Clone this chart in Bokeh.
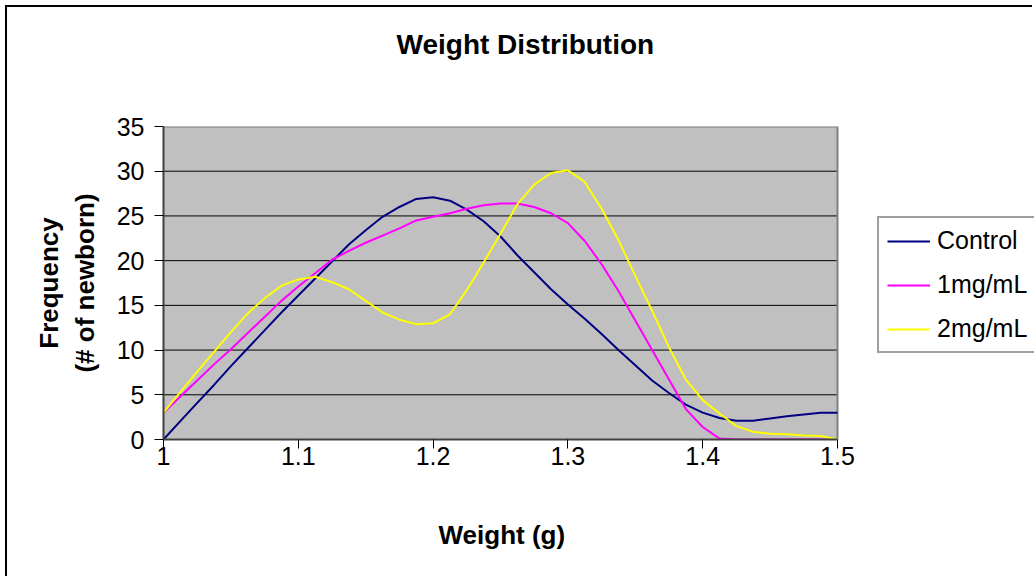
from bokeh.plotting import figure
from bokeh.models import (FixedTicker, NumeralTickFormatter, Legend, LegendItem,
                          ColumnDataSource, Range1d, Title)
from bokeh.embed import file_html
from bokeh.resources import INLINE

# ---- data ----
weight = [1.0, 1.0125, 1.025, 1.0375, 1.05, 1.0625, 1.075, 1.0875, 1.1, 1.1125,
          1.125, 1.1375, 1.15, 1.1625, 1.175, 1.1875, 1.2, 1.2125, 1.225, 1.2375,
          1.25, 1.2625, 1.275, 1.2875, 1.3, 1.3125, 1.325, 1.3375, 1.35, 1.3625,
          1.375, 1.3875, 1.4, 1.4125, 1.425, 1.4375, 1.45, 1.4625, 1.475, 1.4875, 1.5]

control = [0.0, 2.05, 4.1, 6.1, 8.2, 10.2, 12.2, 14.2, 16.1, 18.0,
           19.9, 21.8, 23.4, 24.9, 26.0, 26.9, 27.1, 26.7, 25.7, 24.4,
           22.7, 20.6, 18.7, 16.8, 15.1, 13.5, 11.8, 10.0, 8.3, 6.6,
           5.2, 3.9, 3.0, 2.4, 2.1, 2.1, 2.35, 2.6, 2.8, 3.0, 3.0]

mg1 = [3.0, 4.8, 6.6, 8.4, 10.1, 11.9, 13.7, 15.5, 17.1, 18.6,
       20.1, 21.1, 22.0, 22.8, 23.6, 24.5, 24.9, 25.3, 25.8, 26.2,
       26.4, 26.4, 26.0, 25.3, 24.2, 22.2, 19.6, 16.6, 13.3, 10.0,
       6.7, 3.4, 1.4, 0.1, 0.0, 0.0, 0.0, 0.0, 0.0, 0.0, 0.0]

mg2 = [3.0, 5.3, 7.6, 9.8, 12.0, 14.1, 15.8, 17.2, 17.9, 18.2,
       17.6, 16.8, 15.5, 14.2, 13.4, 12.9, 13.0, 14.0, 16.7, 19.8,
       23.0, 26.3, 28.5, 29.8, 30.1, 28.8, 25.8, 22.3, 18.3, 14.4,
       10.3, 6.7, 4.4, 2.9, 1.5, 0.85, 0.65, 0.6, 0.45, 0.4, 0.0]

series_names = ["Control", "1mg/mL", "2mg/mL"]
series_colors = ["#000080", "#FF00FF", "#FFFF00"]
x_ticks = [1.0, 1.1, 1.2, 1.3, 1.4, 1.5]
y_ticks = [0, 5, 10, 15, 20, 25, 30, 35]
grid_ticks = [5, 10, 15, 20, 25, 30]
title_text = "Weight Distribution"
x_label = "Weight (g)"
y_label = "Frequency\n(# of newborn)"

FONT = "Liberation Sans"

# ---- layout (pixels) ----
W, H = 1027, 571
LEFT, TOP, BOTTOM = 156, 119, 139
AREA_W = 674                      # width of the grey plotting area
FRAME_W = W - LEFT                # frame runs to the right edge (room for legend)
x0, x1 = x_ticks[0], x_ticks[-1]
x_end = x0 + (x1 - x0) * FRAME_W / AREA_W

p = figure(width=W, height=H, output_backend="svg", toolbar_location=None,
           x_range=Range1d(x0, x_end), y_range=Range1d(y_ticks[0], y_ticks[-1]),
           min_border_left=LEFT, min_border_right=0,
           min_border_top=TOP, min_border_bottom=BOTTOM)

# chart-area frame line on the top and left (as in the reference)
p.styles = {"margin-top": "7px", "margin-left": "7px",
            "box-shadow": "-2px -2px 0px 0px #000000"}

p.background_fill_color = "white"
p.border_fill_color = "white"
p.outline_line_color = None
p.title = None

# above (first = nearest the frame): white spacer, then the chart title
p.add_layout(Title(text=".", text_color="white", text_font_size="10px", standoff=57), "above")
p.add_layout(Title(text=title_text, align="left", offset=233,
                   text_font=FONT, text_font_size="28px", text_font_style="bold",
                   text_color="black", standoff=0), "above")

# axes
for ax in (p.xaxis[0], p.yaxis[0]):
    ax.axis_line_color = "#404040"
    ax.axis_line_width = 2
    ax.major_tick_line_color = "black"
    ax.major_tick_line_width = 1
    ax.major_tick_out = 9
    ax.major_tick_in = 0
    ax.minor_tick_line_color = None
    ax.major_label_text_font = FONT
    ax.major_label_text_font_size = "25px"
    ax.major_label_text_color = "black"
    ax.axis_label_text_font = FONT
    ax.axis_label_text_font_size = "26px"
    ax.axis_label_text_font_style = "bold"
    ax.axis_label_text_color = "black"

p.xaxis.ticker = FixedTicker(ticks=x_ticks)
p.xaxis.bounds = (x0, x1)
p.xaxis.formatter = NumeralTickFormatter(format="0.[0]")
p.xaxis.major_label_standoff = -2
p.xaxis.axis_label = None

p.yaxis.ticker = FixedTicker(ticks=y_ticks)
p.yaxis.major_label_standoff = 10
p.yaxis.axis_label = y_label
p.yaxis.axis_label_standoff = 14

# below (after the axis): white spacer, then the x-axis title centred on the grey area
p.add_layout(Title(text=".", text_color="white", text_font_size="10px", standoff=40), "below")
p.add_layout(Title(text=x_label, align="left", offset=275,
                   text_font=FONT, text_font_size="26px", text_font_style="bold",
                   text_color="black", standoff=0), "below")

p.xgrid.visible = False
p.ygrid.visible = False

# grey plotting area, grid lines and its border
p.quad(left=x0, right=x1, bottom=y_ticks[0], top=y_ticks[-1],
       fill_color="#C0C0C0", line_color=None, level="image")
p.segment(x0=[x0] * len(grid_ticks), x1=[x1] * len(grid_ticks),
          y0=grid_ticks, y1=grid_ticks, line_color="black", line_width=1)
p.line(x=[x0, x1, x1], y=[y_ticks[-1], y_ticks[-1], y_ticks[0]],
       line_color="#808080", line_width=2)

src = ColumnDataSource(dict(weight=weight, control=control, mg1=mg1, mg2=mg2))
renderers = []
for col, color in zip(["control", "mg1", "mg2"], series_colors):
    r = p.line("weight", col, source=src, line_color=color, line_width=2,
               line_join="round")
    renderers.append(r)

legend = Legend(items=[LegendItem(label=n, renderers=[r])
                       for n, r in zip(series_names, renderers)],
                location=(714, 86))
legend.border_line_color = "#404040"
legend.border_line_width = 2
legend.background_fill_color = "white"
legend.background_fill_alpha = 1
legend.label_text_font = FONT
legend.label_text_font_size = "25px"
legend.label_text_color = "black"
legend.glyph_width = 43
legend.glyph_height = 26
legend.label_height = 26
legend.label_standoff = 7
legend.padding = 8
legend.spacing = 15
legend.margin = 0
p.add_layout(legend, "center")

open("out.html", "w").write(file_html(p, INLINE))
